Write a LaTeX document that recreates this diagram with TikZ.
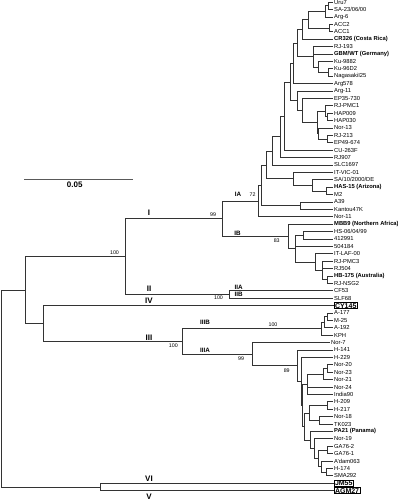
\documentclass[tikz,border=0pt]{standalone}
\usepackage{fontspec}
\setmainfont{Liberation Sans}
\newcommand\brkids[2]{\foreach \c in {#2}{\draw[br] (#1) |- (\c);}}
\begin{document}
\begin{tikzpicture}[x=1pt,y=-1pt,
 br/.style={draw=black!80, line width=0.8pt},
 scalebar/.style={draw=black!65, line width=1.2pt},
 leaf/.style={anchor=west, inner sep=1pt, font=\fontsize{5.8}{6}\selectfont, text=black},
 bleaf/.style={leaf, font=\fontsize{5.8}{6}\selectfont\bfseries},
 boxleaf/.style={anchor=west, draw=black, line width=0.6pt, inner sep=0.7pt, font=\fontsize{7}{7}\selectfont\bfseries},
 clade/.style={font=\fontsize{8}{9}\selectfont\bfseries, inner sep=0},
 sub/.style={font=\fontsize{6.3}{7}\selectfont\bfseries, inner sep=0},
 bs/.style={font=\fontsize{5.3}{6}\selectfont, inner sep=0}]
\useasboundingbox (0,0) rectangle (398,500);
% leaves
\node[leaf] (L1) at (333,2.2) {Uru7};
\node[leaf] (L2) at (333,9.6) {SA-23/06/00};
\node[leaf] (L3) at (333,17.0) {Arg-6};
\node[leaf] (L4) at (333,24.4) {ACC2};
\node[leaf] (L5) at (333,31.8) {ACC1};
\node[bleaf] (L6) at (333,39.2) {CR326 (Costa Rica)};
\node[leaf] (L7) at (333,46.6) {RJ-193};
\node[bleaf] (L8) at (333,54.0) {GBM/WT (Germany)};
\node[leaf] (L9) at (333,61.4) {Ku-9882};
\node[leaf] (L10) at (333,68.8) {Ku-96D2};
\node[leaf] (L11) at (333,76.2) {NagasakiI25};
\node[leaf] (L12) at (333,83.6) {Arg578};
\node[leaf] (L13) at (333,91.0) {Arg-11};
\node[leaf] (L14) at (333,98.4) {EP35-730};
\node[leaf] (L15) at (333,105.8) {RJ-PMC1};
\node[leaf] (L16) at (333,113.2) {HAP009};
\node[leaf] (L17) at (333,120.6) {HAP030};
\node[leaf] (L18) at (333,128.0) {Nor-13};
\node[leaf] (L19) at (333,135.4) {RJ-213};
\node[leaf] (L20) at (333,142.8) {EP49-674};
\node[leaf] (L21) at (333,150.2) {CU-263F};
\node[leaf] (L22) at (333,157.6) {RJ907};
\node[leaf] (L23) at (333,165.0) {SLC1697};
\node[leaf] (L24) at (333,172.4) {IT-VIC-01};
\node[leaf] (L25) at (333,179.8) {SA/10/2000/DE};
\node[bleaf] (L26) at (333,187.2) {HAS-15 (Arizona)};
\node[leaf] (L27) at (333,194.6) {M2};
\node[leaf] (L28) at (333,202.0) {A39};
\node[leaf] (L29) at (333,209.4) {Kantou47K};
\node[leaf] (L30) at (333,216.8) {Nor-11};
\node[bleaf] (L31) at (333,224.2) {MBB9 (Northern Africa)};
\node[leaf] (L32) at (333,231.6) {HS-06/04/99};
\node[leaf] (L33) at (333,239.0) {412991};
\node[leaf] (L34) at (333,246.4) {504184};
\node[leaf] (L35) at (333,253.8) {IT-LAF-00};
\node[leaf] (L36) at (333,261.2) {RJ-PMC3};
\node[leaf] (L37) at (333,268.6) {RJ504};
\node[bleaf] (L38) at (333,276.0) {HB-175 (Australia)};
\node[leaf] (L39) at (333,283.4) {RJ-NSG2};
\node[leaf] (L40) at (333,290.8) {CF53};
\node[leaf] (L41) at (333,298.2) {SLF68};
\node[boxleaf] (L42) at (334,305.6) {CY145};
\node[leaf] (L43) at (333,313.0) {A-177};
\node[leaf] (L44) at (333,320.4) {M-25};
\node[leaf] (L45) at (333,327.8) {A-192};
\node[leaf] (L46) at (333,335.2) {KPH};
\node[leaf] (L47) at (330,342.6) {Nor-7};
\node[leaf] (L48) at (333,350.0) {H-141};
\node[leaf] (L49) at (333,357.4) {H-229};
\node[leaf] (L50) at (333,364.8) {Nor-20};
\node[leaf] (L51) at (333,372.2) {Nor-23};
\node[leaf] (L52) at (333,379.6) {Nor-21};
\node[leaf] (L53) at (333,387.0) {Nor-24};
\node[leaf] (L54) at (333,394.4) {India90};
\node[leaf] (L55) at (333,401.8) {H-209};
\node[leaf] (L56) at (333,409.2) {H-217};
\node[leaf] (L57) at (333,416.6) {Nor-18};
\node[leaf] (L58) at (333,424.0) {TK023};
\node[bleaf] (L59) at (333,431.4) {PA21 (Panama)};
\node[leaf] (L60) at (333,438.8) {Nor-19};
\node[leaf] (L61) at (333,446.2) {GA76-2};
\node[leaf] (L62) at (333,453.6) {GA76-1};
\node[leaf] (L63) at (333,461.0) {A'dam063};
\node[leaf] (L64) at (333,468.4) {H-174};
\node[leaf] (L65) at (333,475.8) {SMA292};
\node[boxleaf] (L66) at (334,483.2) {JM55};
\node[boxleaf] (L67) at (334,490.6) {AGM27};
% internal nodes
\coordinate (Ga1) at (328,5.9);
\coordinate (Ga2) at (325,11.45);
\coordinate (Ga3) at (329,28.1);
\coordinate (Ga4) at (308,19.775);
\coordinate (Ga5) at (302,29.49);
\coordinate (Gb1) at (328,72.5);
\coordinate (Gb2) at (318,66.95);
\coordinate (Gb3) at (313,56.775);
\coordinate (Gc) at (297,43.13);
\coordinate (Gd) at (293,63.37);
\coordinate (Gf1) at (327,116.9);
\coordinate (Gf2) at (325,111.35);
\coordinate (Gf3) at (327,139.1);
\coordinate (Gf4) at (318,133.55);
\coordinate (Gf5) at (317,122.45);
\coordinate (Gf6) at (302,110.43);
\coordinate (Gf7) at (297,100.71);
\coordinate (Ge) at (290.5,82.04);
\coordinate (E5) at (284,116.12);
\coordinate (E4) at (280,136.86);
\coordinate (Ex) at (272,150.93);
\coordinate (It1) at (326,190.9);
\coordinate (It2) at (312,185.35);
\coordinate (It3) at (293,178.875);
\coordinate (E2) at (266,164.9);
\coordinate (Ak) at (300,205.7);
\coordinate (E1) at (261,185.3);
\coordinate (Ea) at (258,201.05);
\coordinate (Fe) at (303,235.3);
\coordinate (Fh) at (327,279.7);
\coordinate (Fb) at (322,270.45);
\coordinate (Fc) at (315,262.125);
\coordinate (F2) at (295,248.71);
\coordinate (Fa) at (288,236.46);
\coordinate (Da) at (222.7,218.76);
\coordinate (IIn) at (229,294.5);
\coordinate (Ba) at (125,256.63);
\coordinate (IIIBa) at (327,316.7);
\coordinate (IIIBb) at (324,322.25);
\coordinate (IIIBc) at (321,328.73);
\coordinate (Ha) at (327,368.5);
\coordinate (Hb1) at (323,374.05);
\coordinate (H5) at (307,384.225);
\coordinate (Hg1) at (327,405.5);
\coordinate (Hg2) at (319,420.3);
\coordinate (Hb) at (309,412.9);
\coordinate (Hf2) at (326,472.1);
\coordinate (Hf) at (321,466.55);
\coordinate (He1) at (327,449.9);
\coordinate (He) at (318,458.225);
\coordinate (Hd) at (314,448.51);
\coordinate (Hc) at (310,439.96);
\coordinate (H6) at (304,426.43);
\coordinate (H4) at (302.5,405.33);
\coordinate (H3) at (301,381.37);
\coordinate (H2) at (297.5,365.68);
\coordinate (Hh) at (252,354.14);
\coordinate (Ga) at (182,341.44);
\coordinate (Ca) at (43,323.52);
\coordinate (Aa) at (25.7,290.07);
\coordinate (VV) at (100,486.9);
\coordinate (Rt) at (1.2,388.5);
% branches
\brkids{Ga1}{L1.west,L2.west}
\brkids{Ga2}{Ga1,L3.west}
\brkids{Ga3}{L4.west,L5.west}
\brkids{Ga4}{Ga2,Ga3}
\brkids{Ga5}{Ga4,L6.west}
\brkids{Gb1}{L10.west,L11.west}
\brkids{Gb2}{L9.west,Gb1}
\brkids{Gb3}{L7.west,L8.west,Gb2}
\brkids{Gc}{Ga5,Gb3}
\brkids{Gd}{Gc,L12.west}
\brkids{Gf1}{L16.west,L17.west}
\brkids{Gf2}{L15.west,Gf1}
\brkids{Gf3}{L19.west,L20.west}
\brkids{Gf4}{L18.west,Gf3}
\brkids{Gf5}{Gf2,Gf4}
\brkids{Gf6}{L14.west,Gf5}
\brkids{Gf7}{L13.west,Gf6}
\brkids{Ge}{Gd,Gf7}
\brkids{E5}{Ge,L21.west}
\brkids{E4}{E5,L22.west}
\brkids{Ex}{E4,L23.west}
\brkids{It1}{L26.west,L27.west}
\brkids{It2}{L25.west,It1}
\brkids{It3}{L24.west,It2}
\brkids{E2}{Ex,It3}
\brkids{Ak}{L28.west,L29.west}
\brkids{E1}{E2,Ak}
\brkids{Ea}{E1,L30.west}
\brkids{Fe}{L32.west,L33.west}
\brkids{Fh}{L38.west,L39.west}
\brkids{Fb}{L36.west,L37.west,Fh}
\brkids{Fc}{L35.west,Fb}
\brkids{F2}{Fe,L34.west,Fc}
\brkids{Fa}{L31.west,F2}
\brkids{Da}{Ea,Fa}
\brkids{IIn}{L40.west,L41.west}
\brkids{Ba}{Da,IIn}
\brkids{IIIBa}{L43.west,L44.west}
\brkids{IIIBb}{IIIBa,L45.west}
\brkids{IIIBc}{IIIBb,L46.west}
\brkids{Ha}{L50.west,L51.west}
\brkids{Hb1}{Ha,L52.west}
\brkids{H5}{Hb1,L53.west,L54.west}
\brkids{Hg1}{L55.west,L56.west}
\brkids{Hg2}{L57.west,L58.west}
\brkids{Hb}{Hg1,Hg2}
\brkids{Hf2}{L64.west,L65.west}
\brkids{Hf}{L63.west,Hf2}
\brkids{He1}{L61.west,L62.west}
\brkids{He}{He1,Hf}
\brkids{Hd}{L60.west,He}
\brkids{Hc}{L59.west,Hd}
\brkids{H6}{Hb,Hc}
\brkids{H4}{H5,H6}
\brkids{H3}{L49.west,H4}
\brkids{H2}{L48.west,H3}
\brkids{Hh}{L47.west,H2}
\brkids{Ga}{IIIBc,Hh}
\brkids{Ca}{L42.west,Ga}
\brkids{Aa}{Ba,Ca}
\brkids{VV}{L66.west,L67.west}
\brkids{Rt}{Aa,VV}
% scale bar
\coordinate (s1) at (24,179.3);
\coordinate (s2) at (132.7,179.3);
\draw[scalebar] (s1) -- (s2);
\node[clade] (sc) at (74.7,184.6) {0.05};
% clade labels and bootstrap values
\node[bs] (b1) at (114.5,252.6) {100};
\node[clade] (cI) at (149,212.6) {I};
\node[bs] (b2) at (213,214.7) {99};
\node[sub] (sIA) at (238,194.3) {IA};
\node[bs] (b3) at (252.5,194.3) {72};
\node[sub] (sIB) at (237.5,233) {IB};
\node[bs] (b4) at (276.7,240.7) {83};
\node[clade] (cII) at (149,288.5) {II};
\node[sub] (sIIA) at (238.7,287) {IIA};
\node[sub] (sIIB) at (238.7,294.6) {IIB};
\node[bs] (b5) at (218.5,297.6) {100};
\node[clade] (cIV) at (149,300.8) {IV};
\node[clade] (cIII) at (149,337.3) {III};
\node[bs] (b6) at (173.3,346) {100};
\node[sub] (sIIIB) at (205,322.3) {IIIB};
\node[bs] (b7) at (273,325) {100};
\node[sub] (sIIIA) at (205,350) {IIIA};
\node[bs] (b8) at (241,358.3) {99};
\node[bs] (b9) at (286.7,370.7) {89};
\node[clade] (cVI) at (149,478.7) {VI};
\node[clade] (cV) at (149,496.4) {V};
\end{tikzpicture}
\end{document}
